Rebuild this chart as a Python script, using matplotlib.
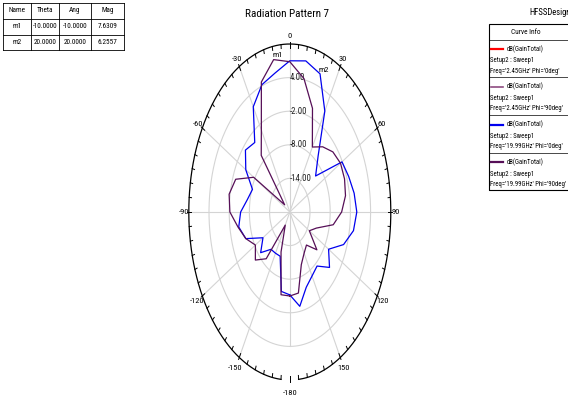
import numpy as np
import matplotlib
matplotlib.use("Agg")
import matplotlib.pyplot as plt
from matplotlib.font_manager import fontManager
from matplotlib.lines import Line2D
from matplotlib.patches import Rectangle


def pick_narrow_font():
    """Prefer a condensed sans face; fall back to Liberation Sans."""
    prefs = ["Liberation Sans Narrow", "Arial Narrow", "Roboto Condensed",
             "Open Sans Condensed", "DejaVu Sans Condensed", "Noto Sans Condensed"]
    entries = fontManager.ttflist
    names = {f.name for f in entries}
    for p in prefs:
        if p in names:
            return p, "normal", True
    for f in entries:
        if f.style == "normal" and f.stretch in ("condensed", "semi-condensed") \
                and "Sans" in f.name and "Mono" not in f.name:
            return f.name, f.stretch, True
    return "Liberation Sans", "normal", False


FONT, STRETCH, IS_NARROW = pick_narrow_font()
plt.rcParams["font.family"] = [FONT, "DejaVu Sans"]
plt.rcParams["font.stretch"] = STRETCH
FS = 1.0 if IS_NARROW else 0.84   # wider faces get a smaller size

# ---------------------------------------------------------------- data
theta_deg = list(range(-180, 181, 10))

# dB(GainTotal), 19.99 GHz, Phi = 0 deg
gain_1999_phi0 = [
    -5.2, -5.6, -11.6, -11.5, -11.3, -8.7, -10.8, -6.1, -4.6, -5.4,
    -7.2, -8.2, -4.9, -2.8, -3.8, 1.7, 4.2, 5.2,
    7.0,
    7.4, 6.2557, 0.8, -6.9, -10.0, -2.1, -1.4, -0.6, -0.1,
    -0.8, -3.0, -6.7, -4.6, -7.4, -6.8, -5.7, -2.9, -5.2,
]
# dB(GainTotal), 19.99 GHz, Phi = 90 deg
gain_1999_phi90 = [
    -5.0, -5.0, -12.4, -17.3, -9.1, -6.65, -8.2, -6.1, -4.4, -2.2,
    -1.7, -2.9, -7.6, -18.0, -6.8, -3.1, 4.7, 7.6309,
    6.84,
    4.2, -0.3, -6.6, -4.8, -3.3, -2.6, -2.7, -3.2, -4.6,
    -6.9, -11.6, -13.3, -9.5, -12.3, -11.5, -10.0, -5.3, -5.0,
]
# 2.45 GHz traces: listed in the legend, nothing inside the plotted range
gain_245_phi0 = []
gain_245_phi90 = []

# markers: (name, curve, theta)
markers = [("m1", "phi90", -10), ("m2", "phi0", 20)]

r_min, r_max = -20.0, 10.0
ring_values = [-14.0, -8.0, -2.0, 4.0]
spoke_angles = list(range(-150, 181, 30))
spoke_labels = {0: "0", 30: "30", 60: "60", 90: "90", 120: "120", 150: "150",
                180: "-180", -150: "-150", -120: "-120", -90: "-90",
                -60: "-60", -30: "-30"}

curves = [
    ("dB(GainTotal)", "Setup2 : Sweep1", "Freq='2.45GHz' Phi='0deg'", "#ff0000", 1.6, gain_245_phi0),
    ("dB(GainTotal)", "Setup2 : Sweep1", "Freq='2.45GHz' Phi='90deg'", "#8e4c80", 1.2, gain_245_phi90),
    ("dB(GainTotal)", "Setup2 : Sweep1", "Freq='19.99GHz' Phi='0deg'", "#0000ee", 1.6, gain_1999_phi0),
    ("dB(GainTotal)", "Setup2 : Sweep1", "Freq='19.99GHz' Phi='90deg'", "#560f57", 1.6, gain_1999_phi90),
]

# ---------------------------------------------------------------- figure
W, H = 568, 396
fig = plt.figure(figsize=(W / 100, H / 100), dpi=100)


def fx(x):
    return x / W


def fy(y):
    return 1 - y / H


cx, cy, rx, ry = 289.8, 212.0, 101.0, 168.0
ax = fig.add_axes([fx(cx - rx), fy(cy + ry), 2 * rx / W, 2 * ry / H],
                  projection="polar")
ax.set_aspect("auto")
ax.set_theta_zero_location("N")
ax.set_theta_direction(-1)
ax.set_ylim(r_min, r_max)
ax.grid(False)
ax.set_xticks([])
ax.set_yticks([])
ax.spines["polar"].set_visible(False)
ax.patch.set_alpha(0)

grid_c = "#d4d4d4"
full = np.linspace(0, 2 * np.pi, 361)
for v in ring_values:
    ax.plot(full, np.full_like(full, v), color=grid_c, lw=0.8, zorder=1)
for a in spoke_angles:
    top = ring_values[-1] if a == 180 else r_max
    ax.plot([np.radians(a)] * 2, [r_min, top], color=grid_c, lw=0.8, zorder=1)

# outer boundary (open at the bottom) and angular ticks
edge = np.radians(np.linspace(-175, 175, 701))
ax.plot(edge, np.full_like(edge, r_max), color="black", lw=0.9, zorder=3,
        clip_on=False)
for a in range(-175, 181, 5):
    if a % 30 == 0:
        r0, r1 = 9.2, 10.4
    else:
        r0, r1 = 9.3, 10.0
    ax.plot([np.radians(a)] * 2, [r0, r1], color="black", lw=0.7, zorder=3,
            clip_on=False)

label_r = {0: 11.4, 30: 11.5, -30: 11.5, 60: 11.4, -60: 11.4, 90: 11.5,
           -90: 11.5, 120: 11.9, -120: 11.9, 150: 12.2, -150: 12.2, 180: 12.3}
for a, txt in spoke_labels.items():
    ax.text(np.radians(a), label_r[a], txt, ha="center", va="center",
            fontsize=6 * FS, clip_on=False)
for v in ring_values:
    ax.text(0.0, v, f"{v:.2f}", ha="left", va="center", fontsize=6.3 * FS,
            color="#222222", zorder=4)

th = np.radians(theta_deg)
for _, _, _, color, _, vals in curves:
    if len(vals):
        ax.plot(th[: len(vals)], vals, color=color, lw=0.9, zorder=5)

series = {"phi0": gain_1999_phi0, "phi90": gain_1999_phi90}
for name, key, t in markers:
    val = series[key][theta_deg.index(t)]
    ax.annotate(name, (np.radians(t), val), xytext=(-1, 3),
                textcoords="offset points", ha="left", va="center",
                fontsize=6 * FS, zorder=6)

fig.text(fx(287), fy(14), "Radiation Pattern 7", ha="center", va="center",
         fontsize=8 * FS)

# ---------------------------------------------------------------- marker table
col_edges = [3, 31, 59, 91, 124]
row_edges = [3, 19, 35, 50]
rows = [["Name", "Theta", "Ang", "Mag"]]
for name, key, t in markers:
    val = series[key][theta_deg.index(t)]
    rows.append([name, f"{t:.4f}", f"{t:.4f}", f"{val:.4f}"])
for x in col_edges:
    fig.add_artist(Line2D([fx(x)] * 2, [fy(row_edges[0]), fy(row_edges[-1])],
                          color="black", lw=0.6))
for y in row_edges:
    fig.add_artist(Line2D([fx(col_edges[0]), fx(col_edges[-1])], [fy(y)] * 2,
                          color="black", lw=0.6))
for i, row in enumerate(rows):
    ymid = (row_edges[i] + row_edges[i + 1]) / 2
    for j, txt in enumerate(row):
        xmid = (col_edges[j] + col_edges[j + 1]) / 2
        fig.text(fx(xmid), fy(ymid), txt, ha="center", va="center",
                 fontsize=5.2 * FS)

# ---------------------------------------------------------------- curve info
fig.text(fx(529), fy(12.5), "HFSSDesign1", ha="left", va="center",
         fontsize=6.2 * FS)
box_l, box_t, box_b = 489, 24, 190
fig.add_artist(Rectangle((fx(box_l), fy(box_b)), fx(W + 5 - box_l),
                         fy(box_t) - fy(box_b), fill=False, ec="black", lw=0.8,
                         clip_on=False))
fig.text(fx(526), fy(32), "Curve Info", ha="center", va="center",
         fontsize=5.2 * FS)
seps = [39.5, 77, 115, 152.5]
for y in seps:
    fig.add_artist(Line2D([fx(box_l), fx(W)], [fy(y)] * 2, color="black", lw=0.5))
for k, (l1, l2, l3, color, lw, _) in enumerate(curves):
    y0 = seps[k]
    fig.add_artist(Line2D([fx(491), fx(503)], [fy(y0 + 9.5)] * 2, color=color,
                          lw=lw))
    fig.text(fx(507), fy(y0 + 9.5), l1, ha="left", va="center", fontsize=4.9 * FS)
    fig.text(fx(490), fy(y0 + 21.5), l2, ha="left", va="center", fontsize=4.9 * FS)
    fig.text(fx(490), fy(y0 + 32), l3, ha="left", va="center", fontsize=4.9 * FS)

fig.savefig("out.png", dpi=100)
